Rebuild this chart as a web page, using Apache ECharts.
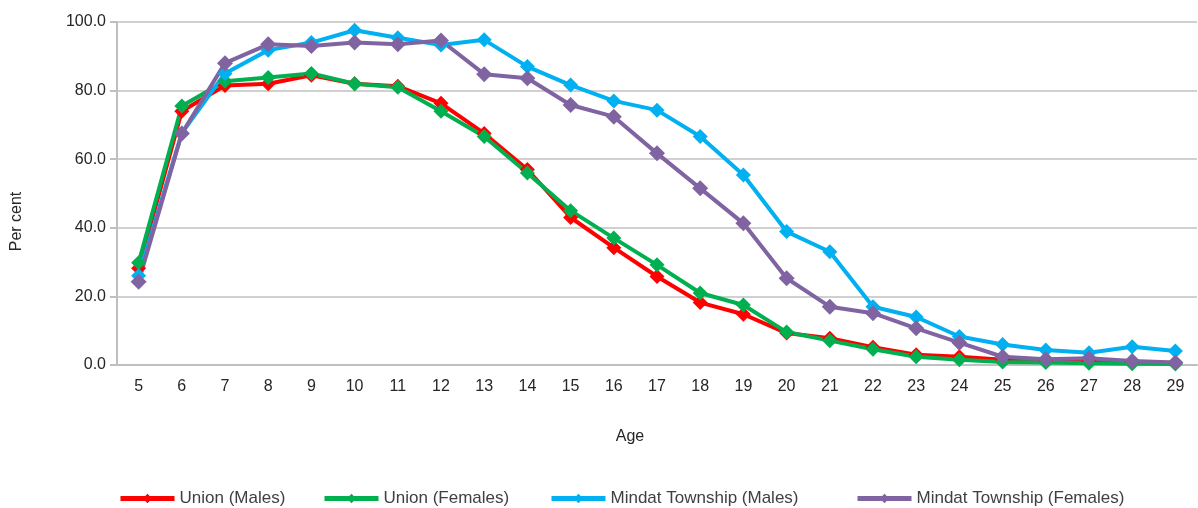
<!DOCTYPE html>
<html>
<head>
<meta charset="utf-8">
<script src="https://cdn.jsdelivr.net/npm/echarts@6/dist/echarts.min.js"></script>
<style>
  html, body { margin: 0; padding: 0; background: #fff; }
  #chart { width: 1198px; height: 508px; }
</style>
</head>
<body>
<div id="chart"></div>
<script>
// 年龄
const ages = ['5', '6', '7', '8', '9', '10', '11', '12', '13', '14', '15', '16', '17',
  '18', '19', '20', '21', '22', '23', '24', '25', '26', '27', '28', '29'];

// 各组数据（百分比）
const unionMales = [28.2, 74, 81.5, 82, 84.5, 82, 81.3, 76.3, 67.5, 57, 43, 34.2, 25.8,
  18.2, 14.8, 9.3, 7.8, 5.2, 3.0, 2.4, 1.5, 1.2, 1.0, 0.8, 0.6];
const unionFemales = [29.8, 75.5, 82.7, 83.8, 85, 82, 81, 74, 66.6, 56, 45, 37, 29.2,
  21, 17.5, 9.6, 7.1, 4.6, 2.4, 1.5, 0.9, 0.7, 0.5, 0.4, 0.3];
const mindatMales = [26, 67.6, 85, 91.8, 94, 97.6, 95.4, 93.3, 94.8, 87, 81.6, 77, 74.3,
  66.6, 55.4, 38.9, 33, 17, 14, 8.3, 6, 4.4, 3.6, 5.3, 4.1];
const mindatFemales = [24.3, 67.5, 88, 93.5, 93, 94, 93.5, 94.6, 84.8, 83.6, 75.8, 72.4, 61.7,
  51.5, 41.3, 25.3, 17, 15.1, 10.7, 6.5, 2.4, 1.7, 2.0, 1.2, 0.7];

const seriesNames = ['Union (Males)', 'Union (Females)', 'Mindat Township (Males)', 'Mindat Township (Females)'];
const seriesColors = ['#ff0000', '#00b050', '#00b0f0', '#8064a2'];
const seriesData = [unionMales, unionFemales, mindatMales, mindatFemales];

const font = "'Liberation Sans', Arial, sans-serif";
const legendLeft = [113, 317, 544, 850];

const chart = echarts.init(document.getElementById('chart'), null, { renderer: 'canvas' });

const option = {
  animation: false,
  textStyle: { fontFamily: font },
  grid: { left: 117, right: 1, top: 22, bottom: 143 },
  // 每个图例单独放置
  legend: seriesNames.map((name, i) => ({
    data: [name],
    left: legendLeft[i],
    top: 485,
    itemWidth: 54,
    itemHeight: 12,
    itemGap: 0,
    lineStyle: { width: 5 },
    textStyle: { fontSize: 17, color: '#404040', fontFamily: font }
  })),
  xAxis: {
    type: 'category',
    data: ages,
    name: 'Age',
    nameLocation: 'middle',
    nameGap: 64,
    nameTextStyle: { fontSize: 16, color: '#262626', padding: [0, 54, 0, 0] },
    axisLine: { lineStyle: { color: '#bfbfbf', width: 2 } },
    axisTick: { show: false },
    axisLabel: { fontSize: 16, color: '#262626', margin: 14 }
  },
  yAxis: {
    type: 'value',
    min: 0,
    max: 100,
    interval: 20,
    name: 'Per cent',
    nameLocation: 'middle',
    nameGap: 92,
    nameTextStyle: { fontSize: 16, color: '#262626', padding: [0, 56, 0, 0] },
    axisLine: { show: true, lineStyle: { color: '#bfbfbf', width: 2 } },
    axisTick: { show: true, length: 7, lineStyle: { color: '#bfbfbf', width: 2 } },
    axisLabel: { fontSize: 16, color: '#262626', margin: 11, formatter: v => v.toFixed(1) },
    splitLine: { lineStyle: { color: '#d0d0d0', width: 2 } }
  },
  series: seriesNames.map((name, i) => ({
    name: name,
    type: 'line',
    data: seriesData[i],
    symbol: 'diamond',
    symbolSize: i === 3 ? 16 : 15,
    color: seriesColors[i],
    lineStyle: { width: 4, color: seriesColors[i] },
    itemStyle: { color: seriesColors[i] }
  }))
};

chart.setOption(option);
</script>
</body>
</html>
